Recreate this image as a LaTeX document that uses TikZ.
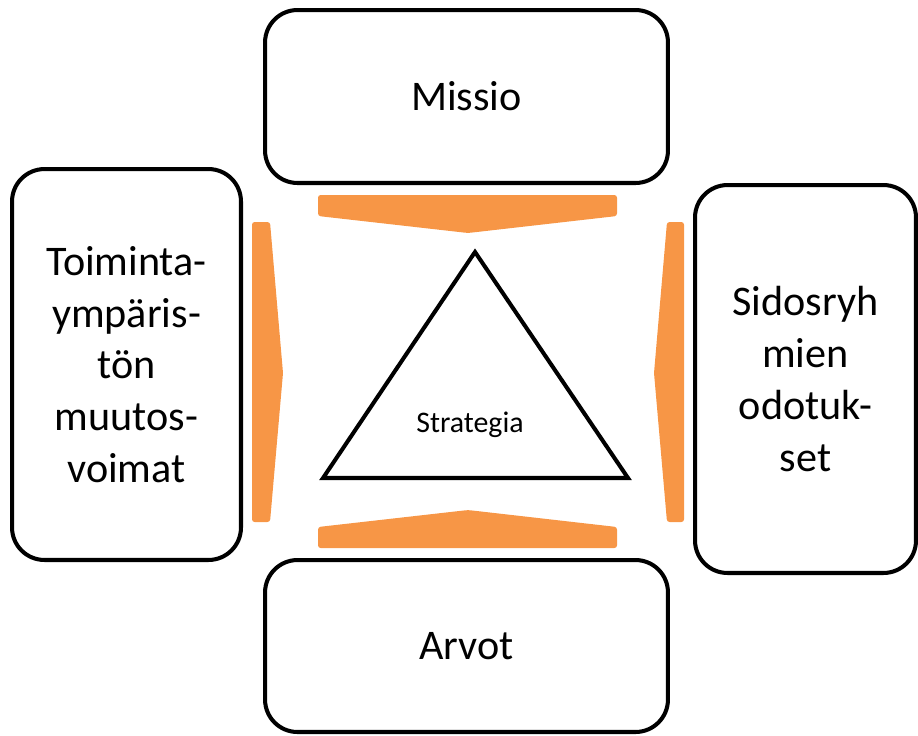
\documentclass[tikz,border=0pt]{standalone}
\usepackage{fontspec}
\setmainfont{Carlito}
\usetikzlibrary{positioning}
\definecolor{accent1}{HTML}{F79646}

\tikzset{
  box/.style={draw=black, line width=2.3pt, rounded corners=0.65cm, fill=white,
    align=center, font=\fontsize{24}{29.5}\selectfont, inner sep=0pt},
  chevron/.style={fill=accent1, draw=none, rounded corners=1.5pt},
}

\begin{document}
\begin{tikzpicture}[x=0.02cm,y=-0.02cm]
\useasboundingbox (0,0) rectangle (918,735);
\node[box, minimum width=8.06cm, minimum height=3.46cm] (missio) at (466.5,96.5) {Missio};
\node[box, minimum width=8.06cm, minimum height=3.44cm] (arvot) at (466.5,646) {Arvot};
\node[box, minimum width=4.58cm, minimum height=7.82cm] (toiminta) at (126.5,364.5) {Toiminta-\\ympäris-\\tön\\muutos-\\voimat};
\node[box, minimum width=4.42cm, minimum height=7.76cm] (sidos) at (805.5,379) {Sidosryh\\mien\\odotuk-\\set};
% orange chevrons
\fill[chevron] (318,195) -- (617,195) -- (617,216) -- (468,233) -- (318,216) -- cycle;
\fill[chevron] (318,548) -- (617,548) -- (617,527) -- (468,510) -- (318,527) -- cycle;
\fill[chevron] (252,222) -- (270,222) -- (283,373) -- (270,522) -- (252,522) -- cycle;
\fill[chevron] (684,222) -- (667,222) -- (654,373) -- (667,522) -- (684,522) -- cycle;
% triangle
\draw[line width=2.3pt, line join=miter] (475,252) -- (628,478) -- (323,478) -- cycle;
\node[font=\fontsize{17}{20}\selectfont] (strategia) at (470,425) {Strategia};
\end{tikzpicture}
\end{document}
